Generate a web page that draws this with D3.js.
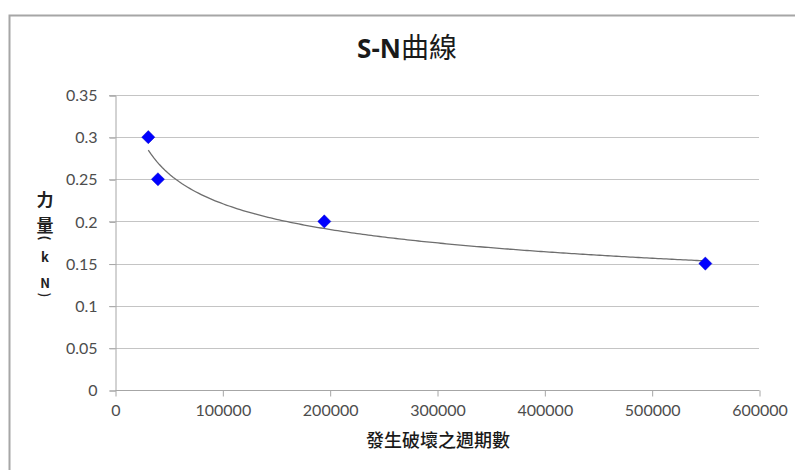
<!DOCTYPE html>
<html>
<head>
<meta charset="utf-8">
<script src="https://cdn.jsdelivr.net/npm/d3@7"></script>
<style>
  html, body { margin: 0; padding: 0; background: #fff; }
  svg { display: block; }
</style>
</head>
<body>
<svg id="chart" width="795" height="470"></svg>
<script>
// ---- data ----
const cycles = [31000, 40000, 195000, 550000];
const forces = [0.30, 0.25, 0.20, 0.15];
const xTicks = [0, 100000, 200000, 300000, 400000, 500000, 600000];
const yTicks = [0, 0.05, 0.1, 0.15, 0.2, 0.25, 0.3, 0.35];
const titleText = ["S-N", "曲線"];
const xTitle = "發生破壞之週期數";
const yTitleLines = ["力", "量", "k", "N"];

// ---- layout ----
const svg = d3.select("#chart");
const W = 795, H = 470;
const plot = { left: 115, right: 759, top: 95, bottom: 390 };

const x = d3.scaleLinear().domain([0, 600000]).range([plot.left, plot.right]);
const y = d3.scaleLinear().domain([0, 0.35]).range([plot.bottom, plot.top]);

const tickFont = "Lato, 'Open Sans', 'Liberation Sans', sans-serif";
const cjkFont = "'Noto Sans CJK TC', 'Noto Sans CJK SC', sans-serif";

// outer chart border (only top and left are visible)
svg.append("path")
  .attr("d", `M9.5,${H} L9.5,15.5 L${W},15.5`)
  .attr("fill", "none").attr("stroke", "#a6a6a6").attr("stroke-width", 2);

// gridlines
svg.append("g").selectAll("line").data(yTicks.filter(d => d > 0)).join("line")
  .attr("x1", plot.left - 6).attr("x2", plot.right)
  .attr("y1", d => Math.round(y(d)) + 0.5).attr("y2", d => Math.round(y(d)) + 0.5)
  .attr("stroke", "#c4c4c4").attr("stroke-width", 1);

// y axis
const yAxis = d3.axisLeft(y).tickValues(yTicks).tickSize(6).tickPadding(12)
  .tickFormat(d => d3.format("")(+d.toFixed(2)));
const gy = svg.append("g").attr("transform", `translate(${plot.left + 0.5},0.5)`).call(yAxis);
gy.select(".domain").attr("stroke", "#a6a6a6");
gy.selectAll(".tick line").attr("stroke", "#a6a6a6");
gy.selectAll(".tick text").attr("font-family", tickFont).attr("font-size", 16).attr("fill", "#4d4d4d");

// x axis
const xAxis = d3.axisBottom(x).tickValues(xTicks).tickSize(6).tickPadding(8)
  .tickFormat(d3.format("d"));
const gx = svg.append("g").attr("transform", `translate(0.5,${plot.bottom + 0.5})`).call(xAxis);
gx.select(".domain").attr("stroke", "#a6a6a6").attr("d", `M${plot.left},0H${plot.right}`);
gx.selectAll(".tick line").attr("stroke", "#a6a6a6");
gx.selectAll(".tick text").attr("font-family", tickFont).attr("font-size", 16).attr("fill", "#4d4d4d");

// power trendline (least squares in log-log space)
const lx = cycles.map(Math.log), ly = forces.map(Math.log);
const mx = d3.mean(lx), my = d3.mean(ly);
const b = d3.sum(lx.map((v, i) => (v - mx) * (ly[i] - my))) / d3.sum(lx.map(v => (v - mx) ** 2));
const a = Math.exp(my - b * mx);
const x0 = d3.min(cycles), x1 = d3.max(cycles);
const trend = d3.range(0, 201).map(i => {
  const xv = x0 + (x1 - x0) * i / 200;
  return [xv, a * Math.pow(xv, b)];
});
svg.append("path").datum(trend)
  .attr("d", d3.line().x(d => x(d[0])).y(d => y(d[1])))
  .attr("fill", "none").attr("stroke", "#6e6e6e").attr("stroke-width", 1.3);

// markers
const sym = d3.symbol().type(d3.symbolDiamond2).size(110);
svg.append("g").selectAll("path").data(cycles).join("path")
  .attr("transform", (d, i) => `translate(${x(d)},${y(forces[i])})`)
  .attr("d", sym)
  .attr("fill", "#0000ff").attr("stroke", "#0000cc").attr("stroke-width", 0.5);

// title
const title = svg.append("text").attr("x", 407).attr("y", 58).attr("text-anchor", "middle");
title.append("tspan").text(titleText[0])
  .attr("font-family", "'Open Sans', 'Liberation Sans', sans-serif").attr("font-weight", "bold").attr("font-size", 26).attr("fill", "#1a1a1a");
title.append("tspan").text(titleText[1])
  .attr("font-family", cjkFont).attr("font-size", 28).attr("fill", "#1a1a1a");

// x axis title
svg.append("text").attr("x", 438).attr("y", 447).attr("text-anchor", "middle")
  .attr("font-family", cjkFont).attr("font-size", 18).attr("font-weight", 500).attr("fill", "#1a1a1a")
  .text(xTitle);

// y axis title (stacked)
const yT = svg.append("g").attr("font-family", cjkFont).attr("fill", "#222").attr("text-anchor", "middle");
const yPos = [206, 232, 262, 288];
const ySizes = [17, 17, 13, 13];
yTitleLines.forEach((t, i) => {
  yT.append("text").attr("x", 45).attr("y", yPos[i]).attr("font-size", ySizes[i]).attr("font-weight", "bold").text(t);
});
yT.append("text").attr("transform", "translate(45,238) rotate(90)").attr("font-size", 13).attr("font-weight", "bold").attr("dy", "0.35em").text("(");
yT.append("text").attr("transform", "translate(45,295) rotate(90)").attr("font-size", 13).attr("font-weight", "bold").attr("dy", "0.35em").text(")");
</script>
</body>
</html>
